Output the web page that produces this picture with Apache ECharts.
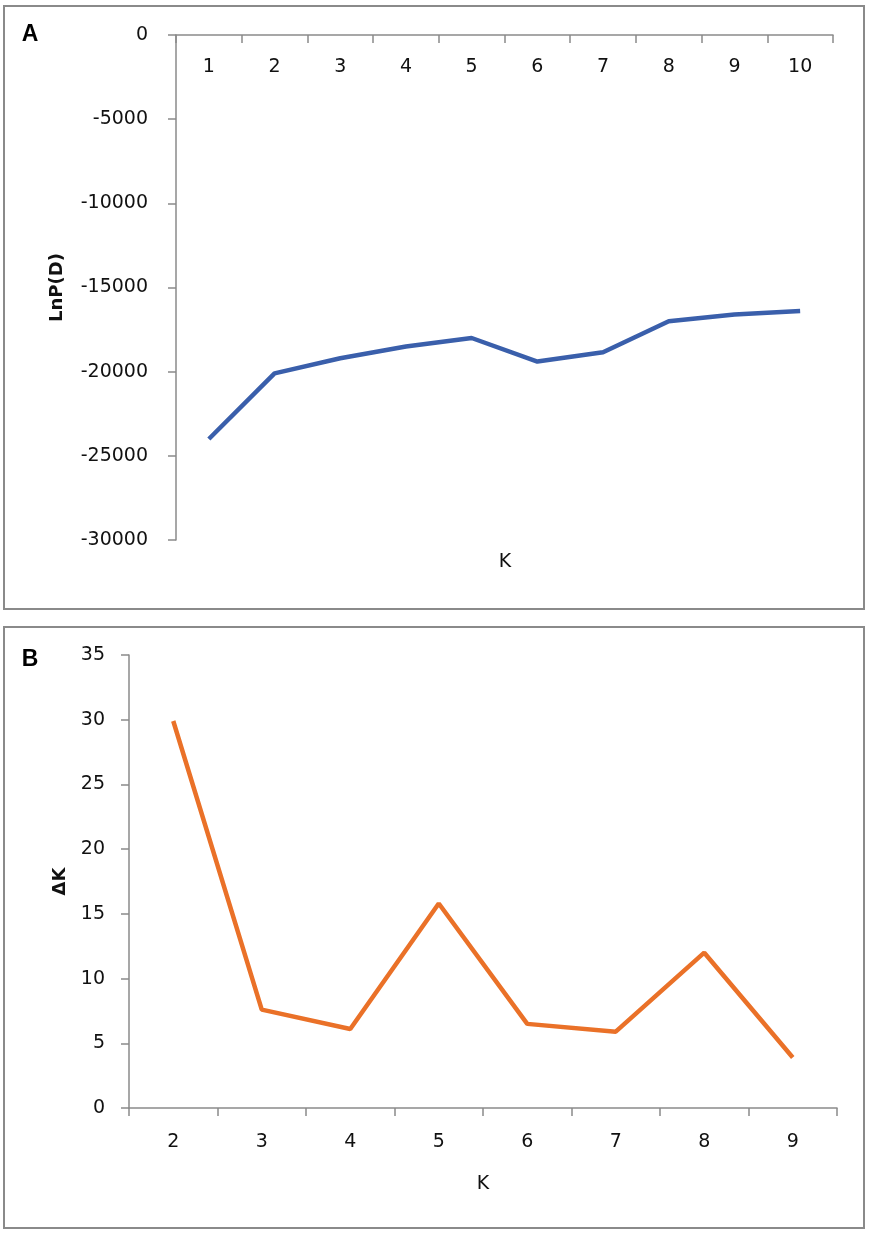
<!DOCTYPE html>
<html>

<head>
    <meta charset="utf-8">
    <title>LnP(D) and Delta K</title>
    <script src="https://cdn.jsdelivr.net/npm/echarts@6/dist/echarts.min.js"></script>
    <style>
        html, body { margin: 0; padding: 0; background: #fff; }
    </style>
</head>

<body>
    <div id="main" style="width: 872px;height:1236px;"></div>
    <script type="text/javascript">

    // ----- data
    var kA = ['1', '2', '3', '4', '5', '6', '7', '8', '9', '10'];
    var lnPD = [-24000, -20100, -19200, -18500, -18000, -19400, -18850, -17000, -16600, -16400];

    var kB = ['2', '3', '4', '5', '6', '7', '8', '9'];
    var deltaK = [29.9, 7.6, 6.1, 15.8, 6.5, 5.9, 12.0, 3.9];

    var font = 'DejaVu Sans';
    var axisGray = '#8a8a8a';
    var textColor = '#111';

    var myChart = echarts.init(document.getElementById('main'));

    var option = {
        animation: false,
        backgroundColor: '#fff',
        textStyle: { fontFamily: font },
        graphic: [
            // panel frames
            { type: 'rect', shape: { x: 4, y: 6, width: 860, height: 603 },
              style: { fill: 'none', stroke: axisGray, lineWidth: 2 } },
            { type: 'rect', shape: { x: 4, y: 627, width: 860, height: 601 },
              style: { fill: 'none', stroke: axisGray, lineWidth: 2 } },
            // panel letters
            { type: 'text', x: 30, y: 35,
              style: { text: 'A', font: 'bold 23px Liberation Sans', fill: '#000', align: 'center', verticalAlign: 'middle' } },
            { type: 'text', x: 30, y: 660,
              style: { text: 'B', font: 'bold 23px Liberation Sans', fill: '#000', align: 'center', verticalAlign: 'middle' } },
            // x title of panel A sits below the plot although the axis is on top
            { type: 'text', x: 505, y: 562,
              style: { text: 'K', font: '19px DejaVu Sans', fill: textColor, align: 'center', verticalAlign: 'middle' } }
        ],
        grid: [
            { left: 176, top: 35, width: 657, height: 505 },
            { left: 129, top: 655, width: 708, height: 453 }
        ],
        xAxis: [{
            gridIndex: 0,
            type: 'category',
            position: 'top',
            data: kA,
            axisLine: { lineStyle: { color: axisGray, width: 1.5 } },
            axisTick: { show: true, inside: true, length: 8, interval: 0, lineStyle: { color: axisGray, width: 1.5 } },
            axisLabel: { inside: true, margin: 23, fontSize: 19, color: textColor, fontFamily: font },
            splitLine: { show: false }
        }, {
            gridIndex: 1,
            type: 'category',
            data: kB,
            name: 'K',
            nameLocation: 'middle',
            nameGap: 67,
            nameTextStyle: { fontSize: 19, color: textColor, fontFamily: font },
            axisLine: { lineStyle: { color: axisGray, width: 1.5 } },
            axisTick: { show: true, length: 8, interval: 0, lineStyle: { color: axisGray, width: 1.5 } },
            axisLabel: { margin: 25, fontSize: 19, color: textColor, fontFamily: font },
            splitLine: { show: false }
        }],
        yAxis: [{
            gridIndex: 0,
            type: 'value',
            min: -30000,
            max: 0,
            interval: 5000,
            name: 'LnP(D)',
            nameLocation: 'middle',
            nameRotate: 90,
            nameGap: 110,
            nameTextStyle: { fontSize: 18, fontWeight: 'bold', color: textColor, fontFamily: font },
            axisLine: { show: true, lineStyle: { color: axisGray, width: 1.5 } },
            axisTick: { show: true, length: 8, lineStyle: { color: axisGray, width: 1.5 } },
            axisLabel: { margin: 28, fontSize: 19, color: textColor, fontFamily: font,
                         formatter: function (v) { return String(v); } },
            splitLine: { show: false }
        }, {
            gridIndex: 1,
            type: 'value',
            min: 0,
            max: 35,
            interval: 5,
            name: 'ΔK',
            nameLocation: 'middle',
            nameRotate: 90,
            nameGap: 60,
            nameTextStyle: { fontSize: 18, fontWeight: 'bold', color: textColor, fontFamily: font },
            axisLine: { show: true, lineStyle: { color: axisGray, width: 1.5 } },
            axisTick: { show: true, length: 8, lineStyle: { color: axisGray, width: 1.5 } },
            axisLabel: { margin: 24, fontSize: 19, color: textColor, fontFamily: font,
                         formatter: function (v) { return String(v); } },
            splitLine: { show: false }
        }],
        series: [{
            name: 'LnP(D)',
            type: 'line',
            xAxisIndex: 0,
            yAxisIndex: 0,
            data: lnPD,
            showSymbol: false,
            lineStyle: { color: '#3a5fab', width: 4.5 }
        }, {
            name: 'ΔK',
            type: 'line',
            xAxisIndex: 1,
            yAxisIndex: 1,
            data: deltaK,
            showSymbol: false,
            lineStyle: { color: '#ea7128', width: 4.5 }
        }]
    };

    myChart.setOption(option);
    </script>
</body>

</html>
